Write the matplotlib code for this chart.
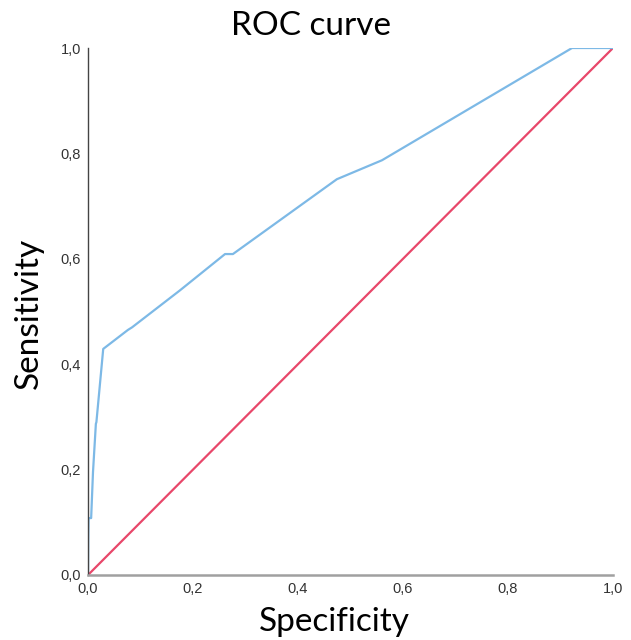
import numpy as np
import matplotlib
matplotlib.use("Agg")
import matplotlib.pyplot as plt

# ROC curve points (1 - specificity, sensitivity)
fpr = [0.0, 0.0005, 0.001, 0.006, 0.0095, 0.015, 0.016, 0.029, 0.076, 0.084,
       0.175, 0.261, 0.276, 0.474, 0.560, 0.922, 1.0]
tpr = [0.0, 0.072, 0.108, 0.108, 0.195, 0.287, 0.29, 0.429, 0.465, 0.470,
       0.540, 0.609, 0.609, 0.751, 0.787, 1.0, 1.0]
ref_line = [0.0, 1.0]
tick_vals = [0.0, 0.2, 0.4, 0.6, 0.8, 1.0]
tick_labels = ["0,0", "0,2", "0,4", "0,6", "0,8", "1,0"]

fig = plt.figure(figsize=(6.31, 6.40), dpi=100)
ax = fig.add_axes([88 / 631, 1 - 575 / 640, 525 / 631, 527 / 640])

ax.plot(ref_line, ref_line, color="#E8476A", lw=1.6, solid_capstyle="butt")
ax.plot(fpr, tpr, color="#7DB9E6", lw=1.6)

tick_font = {"family": "Liberation Sans", "size": 10.5, "color": "#333333"}
ax.set_xlim(0, 1)
ax.set_ylim(0, 1)
ax.set_xticks(tick_vals)
ax.set_xticklabels(tick_labels, fontdict=tick_font)
ax.set_yticks(tick_vals)
ax.set_yticklabels(tick_labels, fontdict=tick_font)
ax.tick_params(length=0, pad=5)

ax.spines["top"].set_visible(False)
ax.spines["right"].set_visible(False)
ax.spines["left"].set_color("#444444")
ax.spines["left"].set_linewidth(1.0)
ax.spines["bottom"].set_color("#A0A0A0")
ax.spines["bottom"].set_linewidth(1.8)

fig.text(0.493, 0.960, "ROC curve", ha="center", va="center",
         fontsize=24, family="Lato")
fig.text(0.530, 0.028, "Specificity", ha="center", va="center",
         fontsize=24, family="Lato")
fig.text(0.045, 0.51, "Sensitivity", ha="center", va="center",
         fontsize=24, family="Lato", rotation=90)

fig.savefig("out.png", dpi=100)
